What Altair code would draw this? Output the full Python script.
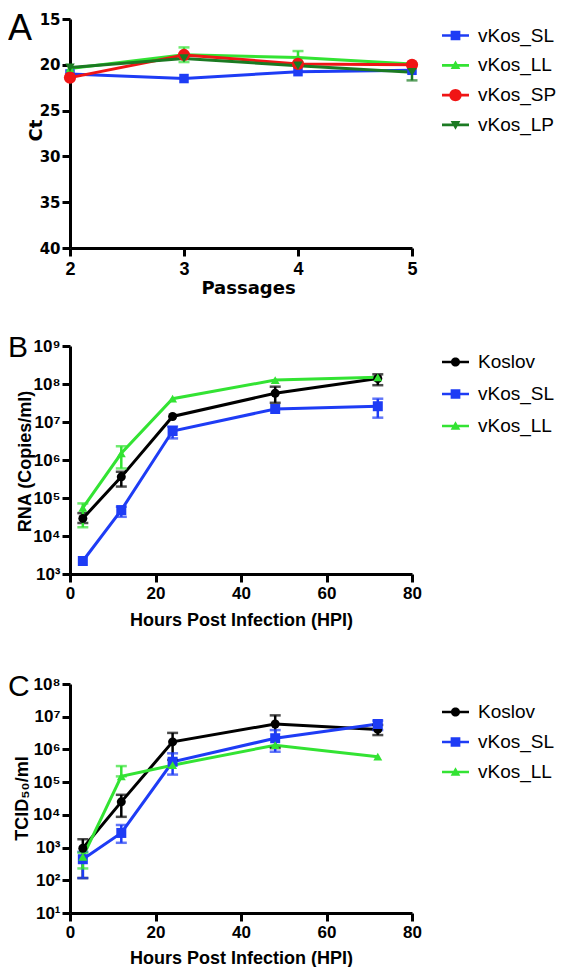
import altair as alt
import pandas as pd

# ---------------- Panel A : Ct over passages ----------------
passages = [2, 3, 4, 5]
a_names = ["vKos_SL", "vKos_LL", "vKos_SP", "vKos_LP"]
a_sl = [21.0, 21.5, 20.75, 20.6]
a_ll = [20.4, 18.9, 19.2, 19.9]
a_sp = [21.4, 18.93, 19.9, 20.0]
a_lp = [20.3, 19.3, 20.1, 20.8]
a_ll_lo = [None, 18.1, 18.5, None]
a_ll_hi = [None, 19.7, 19.9, None]
a_lp_lo = [None, None, None, 19.9]
a_lp_hi = [None, None, None, 21.7]
a_yticks = [15, 20, 25, 30, 35, 40]

# ---------------- Panel B : RNA copies/ml ----------------
hours = [3, 12, 24, 48, 72]
bc_names = ["Koslov", "vKos_SL", "vKos_LL"]
b_koslov = [2.9e4, 3.6e5, 1.4e7, 5.7e7, 1.4e8]
b_koslov_lo = [2.2e4, 2.0e5, None, 3.2e7, 9.3e7]
b_koslov_hi = [4.0e4, 4.9e5, None, 8.5e7, 1.8e8]
b_sl = [2.2e3, 4.8e4, 5.8e6, 2.2e7, 2.6e7]
b_sl_lo = [None, 3.2e4, 3.7e6, None, 1.3e7]
b_sl_hi = [None, 5.9e4, 7.6e6, None, 4.1e7]
b_ll = [5.5e4, 1.5e6, 4.1e7, 1.27e8, 1.5e8]
b_ll_lo = [1.7e4, 6.0e5, None, None, None]
b_ll_hi = [7.2e4, 2.3e6, None, None, None]
b_yticks = [1e3, 1e4, 1e5, 1e6, 1e7, 1e8, 1e9]

# ---------------- Panel C : TCID50/ml ----------------
c_koslov = [950, 2.5e4, 1.7e6, 6.0e6, 4.1e6]
c_koslov_lo = [117, 8.7e3, 4.8e5, 1.1e6, 2.75e6]
c_koslov_hi = [1.8e3, 4.1e4, 3.2e6, 1.1e7, 5.6e6]
c_sl = [440, 2.8e3, 4.2e5, 2.2e6, 6.0e6]
c_sl_lo = [117, 1.4e3, 1.7e5, 8.5e5, 3.9e6]
c_sl_hi = [740, 4.9e3, 7.6e5, 3.9e6, 7.6e6]
c_ll = [520, 1.5e5, 3.3e5, 1.35e6, 6.0e5]
c_ll_lo = [230, 1.5e5, None, None, None]
c_ll_hi = [700, 3.1e5, None, None, None]
c_yticks = [1e1, 1e2, 1e3, 1e4, 1e5, 1e6, 1e7, 1e8]
bc_xticks = [0, 20, 40, 60, 80]

COL = {"vKos_SL": "#1e3cf5", "vKos_LL": "#33e333", "vKos_SP": "#f01515",
       "vKos_LP": "#1b7a22", "Koslov": "#000000"}

LINE = "M-1,-0.1H1V0.1H-1Z "
def circ(r):
    return LINE + f"M{r},0A{r},{r} 0 1,1 -{r},0A{r},{r} 0 1,1 {r},0Z"
SQ = LINE + "M-0.36,-0.36H0.36V0.36H-0.36Z"
TRI_UP = LINE + "M0,-0.36L0.36,0.28L-0.36,0.28Z"
TRI_DN = LINE + "M0,0.36L-0.36,-0.28L0.36,-0.28Z"

SUP = "['\u2070','\u00b9','\u00b2','\u00b3','\u2074','\u2075','\u2076','\u2077','\u2078','\u2079']"
LOG_LABEL = "'10' + " + SUP + "[round(log(datum.value)/LN10)]"


def table(xs, series):
    rows = []
    for name, vals, lo, hi in series:
        for i, x in enumerate(xs):
            rows.append({"series": name, "x": x, "y": vals[i],
                         "lo": (lo[i] if lo else None), "hi": (hi[i] if hi else None)})
    return pd.DataFrame(rows)


ONE = pd.DataFrame({"k": [0]})


def panel(df, names, marks, legend_paths, letter, letter_size, letter_y,
          xscale, xaxis, yscale, yaxis, height, top, bottom, legend):
    cscale = alt.Scale(domain=names, range=[COL[n] for n in names])
    X = lambda f: alt.X(f, type="quantitative", scale=xscale, axis=xaxis)
    Y = lambda f: alt.Y(f, type="quantitative", scale=yscale, axis=yaxis)
    base = alt.Chart(df)

    layers = [
        alt.Chart(ONE).mark_rule(opacity=0).encode(
            x=alt.value(-62), y=alt.value(top), y2=alt.value(bottom)),
        alt.Chart(ONE).mark_text(
            text=letter, font="Liberation Sans", fontSize=letter_size,
            align="left", baseline="top", color="black").encode(
            x=alt.value(-62), y=alt.value(letter_y)),
    ]
    for n in names:
        s = base.transform_filter(alt.datum.series == n)
        layers.append(s.mark_line(strokeWidth=3, color=COL[n]).encode(x=X("x"), y=Y("y")))
    for n in names:
        s = base.transform_filter(alt.datum.series == n)
        layers.append(s.transform_filter("isValid(datum.lo)").mark_rule(
            strokeWidth=2.5, color=COL[n]).encode(x=X("x"), y=Y("lo"), y2="hi"))
        layers.append(s.transform_fold(["lo", "hi"], as_=["k", "v"]).transform_filter(
            "isValid(datum.v)").mark_tick(
            orient="horizontal", size=11, thickness=2.5, color=COL[n]).encode(
            x=X("x"), y=Y("v")))
    for n in names:
        shape, size = marks[n]
        layers.append(base.transform_filter(alt.datum.series == n).mark_point(
            filled=True, opacity=1, shape=shape, size=size, color=COL[n]).encode(
            x=X("x"), y=Y("y")))
    layers.append(base.transform_filter("datum.x < -1000").mark_point(
        filled=True, opacity=1, size=729).encode(
        x=X("x"), y=Y("y"),
        color=alt.Color("series:N", scale=cscale, legend=legend),
        shape=alt.Shape("series:N", scale=alt.Scale(domain=names, range=legend_paths),
                        legend=legend)))
    return alt.layer(*layers).properties(width=342, height=height)


def mk_legend(ly, rowpad):
    return alt.Legend(orient="none", legendX=372, legendY=ly, title=None,
                      labelFont="Liberation Sans", labelFontSize=19, labelColor="black",
                      symbolSize=729, symbolStrokeWidth=0, symbolOpacity=1,
                      rowPadding=rowpad, labelOffset=9, padding=0)


# ---------- Panel A ----------
dfA = table(passages, [("vKos_SL", a_sl, None, None),
                       ("vKos_LL", a_ll, a_ll_lo, a_ll_hi),
                       ("vKos_SP", a_sp, None, None),
                       ("vKos_LP", a_lp, a_lp_lo, a_lp_hi)])
A = panel(
    dfA, a_names,
    {"vKos_SL": ("square", 90), "vKos_LL": ("triangle-up", 80),
     "vKos_SP": ("circle", 150), "vKos_LP": ("triangle-down", 90)},
    [SQ, TRI_UP, circ(0.46), TRI_DN], "A", 36, -7,
    alt.Scale(domain=[2, 5], nice=False, zero=False),
    alt.Axis(values=passages, format="d", labelFont="Liberation Sans", labelFontSize=18,
             labelFontWeight="bold", labelPadding=4, labelFlush=False, labelOverlap=False,
             title="Passages", titleFont="DejaVu Sans", titleFontSize=18,
             titleFontWeight="bold", titleX=178, titleY=45, titleBaseline="alphabetic"),
    alt.Scale(domain=[15, 40], reverse=True, nice=False, zero=False),
    alt.Axis(values=a_yticks, labelFont="DejaVu Sans", labelFontSize=15,
             labelFontWeight="bold", labelPadding=2, labelOverlap=False,
             title="Ct", titleFont="DejaVu Sans", titleFontSize=18, titleFontWeight="bold",
             titleX=-29, titleY=111, titleBaseline="alphabetic"),
    229, -11, 229 + 58, mk_legend(3, 5.8))

bc_marks = {"Koslov": ("circle", 81), "vKos_SL": ("square", 100),
            "vKos_LL": ("triangle-up", 80)}
bc_paths = [circ(0.34), SQ, TRI_UP]


def bc_xaxis(title_y):
    return alt.Axis(values=bc_xticks, format="d", labelFont="Liberation Sans",
                    labelFontSize=17, labelFontWeight="bold", labelPadding=3,
                    labelFlush=False, labelOverlap=False,
                    title="Hours Post Infection (HPI)", titleFont="Liberation Sans",
                    titleFontSize=18, titleFontWeight="bold", titleX=171, titleY=title_y,
                    titleBaseline="alphabetic")


def bc_yaxis(vals, title, tx, ty):
    return alt.Axis(values=vals, labelExpr=LOG_LABEL, labelFont="Liberation Sans",
                    labelFontSize=17, labelFontWeight="bold", labelPadding=2,
                    labelOverlap=False, title=title, titleFont="Liberation Sans",
                    titleFontSize=18, titleFontWeight="bold", titleX=tx, titleY=ty,
                    titleBaseline="alphabetic")


# ---------- Panel B ----------
dfB = table(hours, [("Koslov", b_koslov, b_koslov_lo, b_koslov_hi),
                    ("vKos_SL", b_sl, b_sl_lo, b_sl_hi),
                    ("vKos_LL", b_ll, b_ll_lo, b_ll_hi)])
B = panel(
    dfB, bc_names, bc_marks, bc_paths, "B", 30, -13,
    alt.Scale(domain=[0, 80], nice=False, zero=False), bc_xaxis(51),
    alt.Scale(type="log", domain=[1e3, 1e9], nice=False),
    bc_yaxis(b_yticks, "RNA (Copies/ml)", -40, 115),
    228, -20, 228 + 70, mk_legend(2.5, 8))

# ---------- Panel C ----------
dfC = table(hours, [("Koslov", c_koslov, c_koslov_lo, c_koslov_hi),
                    ("vKos_SL", c_sl, c_sl_lo, c_sl_hi),
                    ("vKos_LL", c_ll, c_ll_lo, c_ll_hi)])
C = panel(
    dfC, bc_names, bc_marks, bc_paths, "C", 30, -12,
    alt.Scale(domain=[0, 80], nice=False, zero=False), bc_xaxis(50),
    alt.Scale(type="log", domain=[1e1, 1e8], nice=False),
    bc_yaxis(c_yticks, "TCID\u2085\u2080/ml", -43, 114),
    229, -20, 229, mk_legend(14.5, 6))

chart = alt.vconcat(A, B, C, spacing=20).resolve_scale(
    color="independent", shape="independent"
).resolve_legend(
    color="independent", shape="independent"
).properties(
    padding=0, background="white"
).configure_view(stroke=None).configure_axis(
    domainColor="black", domainWidth=3, tickColor="black", tickWidth=3, tickSize=8,
    grid=False, labelColor="black", titleColor="black"
)

chart.save("out.html", embed_options={"renderer": "svg", "actions": False})
